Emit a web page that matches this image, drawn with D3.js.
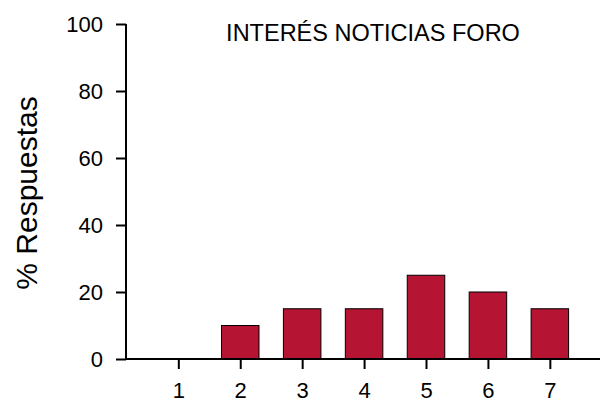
<!DOCTYPE html>
<html><head><meta charset="utf-8">
<script src="https://cdn.jsdelivr.net/npm/d3@7"></script>
<style>body{margin:0;background:#fff;}svg{display:block;font-family:Arial,"Liberation Sans",sans-serif;}</style>
</head><body>
<svg id="c" width="601" height="403"></svg>
<script>
const categories = [1, 2, 3, 4, 5, 6, 7];
const values = [0, 10, 15, 15, 25, 20, 15];
const yTicks = [0, 20, 40, 60, 80, 100];
const title = "INTERÉS NOTICIAS FORO";
const yTitle = "% Respuestas";

const svg = d3.select("#c");
const x = d3.scaleLinear().domain([0.155, 7.81]).range([126, 600]);
const y = d3.scaleLinear().domain([0, 100]).range([359, 24]);
const barW = 37.5;

svg.selectAll("rect.bar").data(categories).enter().append("rect")
  .attr("x", (d) => x(d) - barW / 2)
  .attr("y", (d, i) => y(values[i]))
  .attr("width", barW)
  .attr("height", (d, i) => y(0) - y(values[i]))
  .attr("fill", "#B51432").attr("stroke", "#000").attr("stroke-width", 1)
  .style("display", (d, i) => values[i] > 0 ? null : "none");

const xAxis = svg.append("g").attr("transform", "translate(0,359)")
  .call(d3.axisBottom(x).tickValues(categories).tickSize(10).tickPadding(13).tickFormat(d3.format("d")));
const yAxis = svg.append("g").attr("transform", "translate(126,0)")
  .call(d3.axisLeft(y).tickValues(yTicks).tickSize(10).tickPadding(13));
[xAxis, yAxis].forEach(g => {
  g.attr("font-size", null).attr("font-family", null);
  g.select(".domain").attr("stroke", "#000").attr("stroke-width", 2);
  g.selectAll(".tick line").attr("stroke", "#000").attr("stroke-width", 2);
  g.selectAll(".tick text").attr("fill", "#000").attr("font-size", 22);
});
yAxis.select(".domain").attr("d", "M0,24V359");
xAxis.select(".domain").attr("d", "M126,0H600");

svg.append("text").attr("x", 373).attr("y", 41).attr("text-anchor", "middle")
  .attr("font-size", 23.5).text(title);
svg.append("text").attr("transform", "translate(37,193) rotate(-90)").attr("text-anchor", "middle")
  .attr("font-size", 30).text(yTitle);
</script>
</body></html>
